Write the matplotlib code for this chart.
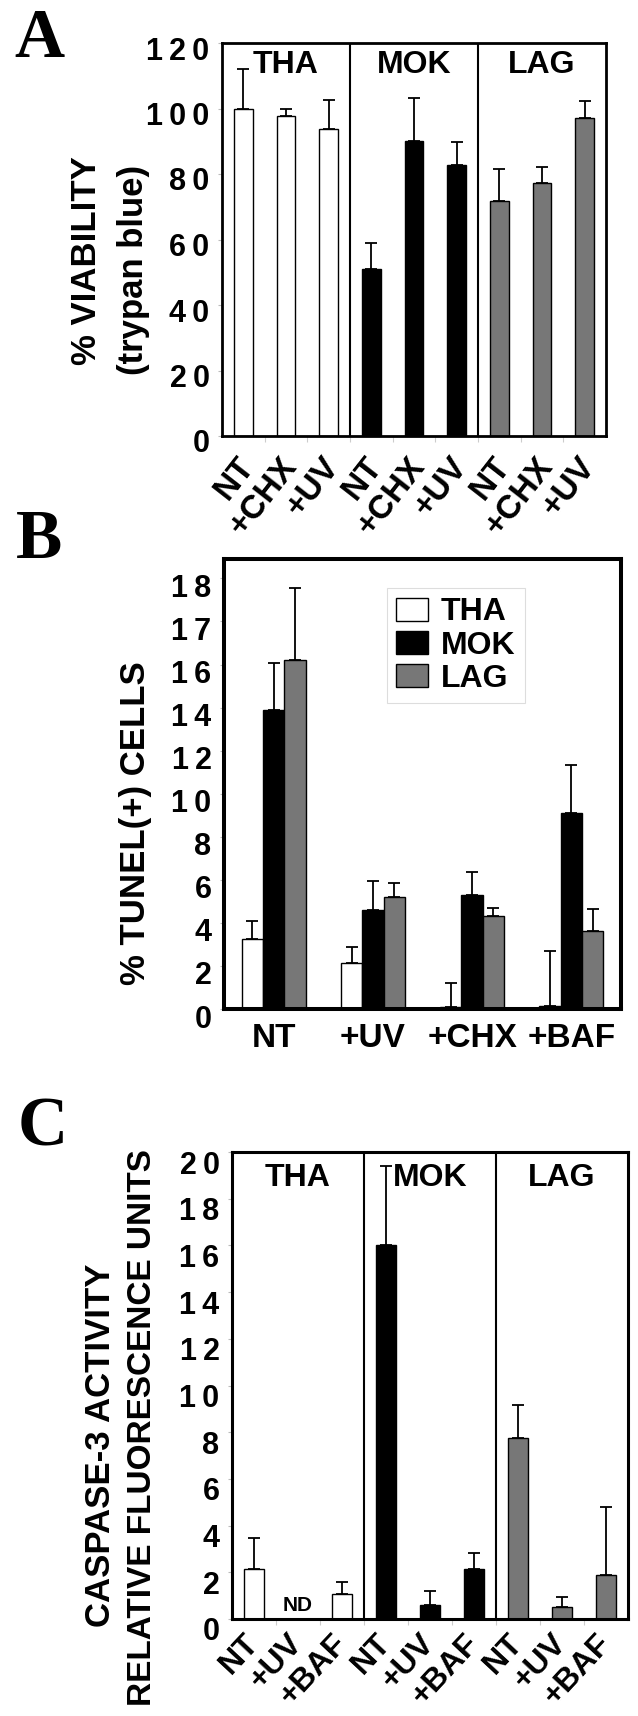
import numpy as np
import matplotlib.pyplot as plt
import matplotlib.transforms as mtransforms

plt.rcParams['font.family'] = ['Liberation Sans', 'DejaVu Sans']
plt.rcParams['font.weight'] = 'bold'

# ---- data ----
cell_lines = ['THA', 'MOK', 'LAG']
bar_colors = ['white', 'black', '#777777']

# A: viability (trypan blue)
treat_A = ['NT', '+CHX', '+UV']
via_val = {'THA': [100.0, 97.6, 93.6], 'MOK': [51.0, 90.1, 82.7], 'LAG': [71.7, 77.3, 97.1]}
via_err = {'THA': [12.0, 2.2, 9.0], 'MOK': [8.0, 13.1, 7.0], 'LAG': [9.7, 4.7, 5.3]}

# B: TUNEL(+) cells
treat_B = ['NT', '+UV', '+CHX', '+BAF']
tun_val = {'THA': [3.23, 2.12, 0.10, 0.15], 'MOK': [13.9, 4.62, 5.29, 9.08], 'LAG': [16.2, 5.21, 4.32, 3.63]}
tun_err = {'THA': [0.87, 0.77, 1.09, 2.54], 'MOK': [2.17, 1.32, 1.08, 2.24], 'LAG': [3.37, 0.65, 0.38, 1.01]}
tun_ticks = [0, 2, 4, 6, 8, 10, 12, 14, 16, 18, 20]
tun_ticklabels = ['0', '2', '4', '6', '8', '10', '12', '14', '16', '17', '18']

# C: caspase-3 activity (nan = ND)
treat_C = ['NT', '+UV', '+BAF']
cas_val = {'THA': [2.16, np.nan, 1.08], 'MOK': [16.0, 0.62, 2.16], 'LAG': [7.76, 0.53, 1.88]}
cas_err = {'THA': [1.33, 0.0, 0.52], 'MOK': [3.38, 0.58, 0.65], 'LAG': [1.41, 0.42, 2.92]}

W, H = 638, 1716


def box(l, t, r, b):
    return [l / W, 1 - b / H, (r - l) / W, (b - t) / H]


def spaced(s):
    return '\u2009'.join(s)


def shift_labels(labels, dx_px, dy_px):
    off = mtransforms.ScaledTranslation(dx_px / 100, -dy_px / 100, fig.dpi_scale_trans)
    for lab in labels:
        lab.set_transform(lab.get_transform() + off)


def style_axes(ax, lw):
    for sp in ax.spines.values():
        sp.set_linewidth(lw)
    ax.tick_params(axis='y', length=3, width=0.8, color='#bbbbbb', pad=6, labelsize=22)


fig = plt.figure(figsize=(W / 100, H / 100), dpi=100)


def grouped_panel(ax, treats, vals, errs, ylim, yticks, pad, rot, fs, sep_lw):
    n = len(treats)
    x = np.arange(3 * n)
    v = np.concatenate([vals[c] for c in cell_lines])
    e = np.concatenate([errs[c] for c in cell_lines])
    cols = np.repeat(bar_colors, n)
    ok = ~np.isnan(v)
    ax.bar(x[ok], v[ok], width=0.44, color=cols[ok], edgecolor='black', linewidth=1.0, zorder=2)
    ax.errorbar(x[ok], v[ok], yerr=[np.zeros(ok.sum()), e[ok]], fmt='none', ecolor='black',
                elinewidth=1.3, capsize=4.6, capthick=1.3, zorder=3)
    ax.set_xlim(-0.5, 3 * n - 0.5)
    ax.set_ylim(*ylim)
    for s in range(1, 3):
        ax.axvline(s * n - 0.5, color='black', lw=sep_lw, zorder=4)
    ax.set_yticks(yticks)
    ax.set_yticklabels([spaced(str(t)) for t in yticks])
    ax.set_xticks(x)
    ax.set_xticklabels(treats * 3, rotation=rot, ha='right', va='center',
                       rotation_mode='anchor', fontsize=fs)
    ax.set_xticks(np.arange(3 * n - 1) + 0.5, minor=True)
    ax.tick_params(axis='x', which='major', length=0, pad=pad)
    ax.tick_params(axis='x', which='minor', length=4, color='#cccccc', width=0.8)
    trans = mtransforms.blended_transform_factory(ax.transData, ax.transAxes)
    for i, name in enumerate(cell_lines):
        ax.text(i * n + (n - 1) / 2, 0.945, name, transform=trans, ha='center', va='center', fontsize=23)


# ---- Panel A ----
axA = fig.add_axes(box(222, 43, 606, 436))
grouped_panel(axA, treat_A, via_val, via_err, (0, 120), list(range(0, 121, 20)), 18, 52, 24, 1.5)
style_axes(axA, 2.0)
shift_labels(axA.get_yticklabels(), 0, 5)
shift_labels(axA.get_xticklabels(), 5, 0)
fig.text(87 / W, 1 - 261 / H, '% VIABILITY', rotation=90, ha='center', va='center', fontsize=25)
fig.text(133 / W, 1 - 270 / H, '(trypan blue)', rotation=90, ha='center', va='center', fontsize=25)

# ---- Panel B ----
axB = fig.add_axes(box(224, 559, 621, 1009))
xg = np.arange(len(treat_B))
bw = 0.215
handles = []
for k, c in enumerate(cell_lines):
    xs = xg + (k - 1) * bw
    h = axB.bar(xs, tun_val[c], width=bw, color=bar_colors[k], edgecolor='black', linewidth=1.0,
                zorder=2, label=c)
    axB.errorbar(xs, tun_val[c], yerr=[np.zeros(len(xg)), tun_err[c]], fmt='none', ecolor='black',
                 elinewidth=1.3, capsize=4.6, capthick=1.3, zorder=3)
    handles.append(h)
axB.set_xlim(-0.5, len(treat_B) - 0.5)
axB.set_ylim(0, 20.9)
axB.set_yticks(tun_ticks)
axB.set_yticklabels([spaced(t) for t in tun_ticklabels])
axB.set_xticks(xg)
axB.set_xticklabels(treat_B, fontsize=24)
axB.tick_params(axis='x', length=0, pad=10)
style_axes(axB, 2.9)
shift_labels(axB.get_yticklabels(), 0, 7)
leg = axB.legend(handles=handles, loc='upper left', bbox_to_anchor=(0.41, 0.936), fontsize=23,
                 frameon=True, fancybox=False, edgecolor='#dddddd', framealpha=1,
                 handlelength=1.0, handleheight=0.72, handletextpad=0.4,
                 labelspacing=0.1, borderpad=0.3, borderaxespad=0)
leg.get_frame().set_linewidth(0.8)
fig.text(136 / W, 1 - 823 / H, '% TUNEL(+) CELLS', rotation=90, ha='center', va='center', fontsize=25)

# ---- Panel C ----
axC = fig.add_axes(box(232, 1152, 628, 1619))
grouped_panel(axC, treat_C, cas_val, cas_err, (0, 20), list(range(0, 21, 2)), 14, 47, 23, 1.5)
style_axes(axC, 2.2)
shift_labels(axC.get_yticklabels(), 0, 10)
axC.text(1, 0.15, 'ND', ha='center', va='bottom', fontsize=15)
fig.text(100 / W, 1 - 1445 / H, 'CASPASE-3 ACTIVITY', rotation=90, ha='center', va='center', fontsize=25)
fig.text(143 / W, 1 - 1428 / H, 'RELATIVE FLUORESCENCE UNITS', rotation=90, ha='center', va='center',
         fontsize=24)

# ---- panel letters ----
for letter, (lx, ly) in zip('ABC', [(14, 57), (16, 558), (18, 1145)]):
    fig.text(lx / W, 1 - ly / H, letter, ha='left', va='baseline', fontsize=50, weight='bold',
             family='Liberation Serif')

fig.savefig('out.png', dpi=100)
